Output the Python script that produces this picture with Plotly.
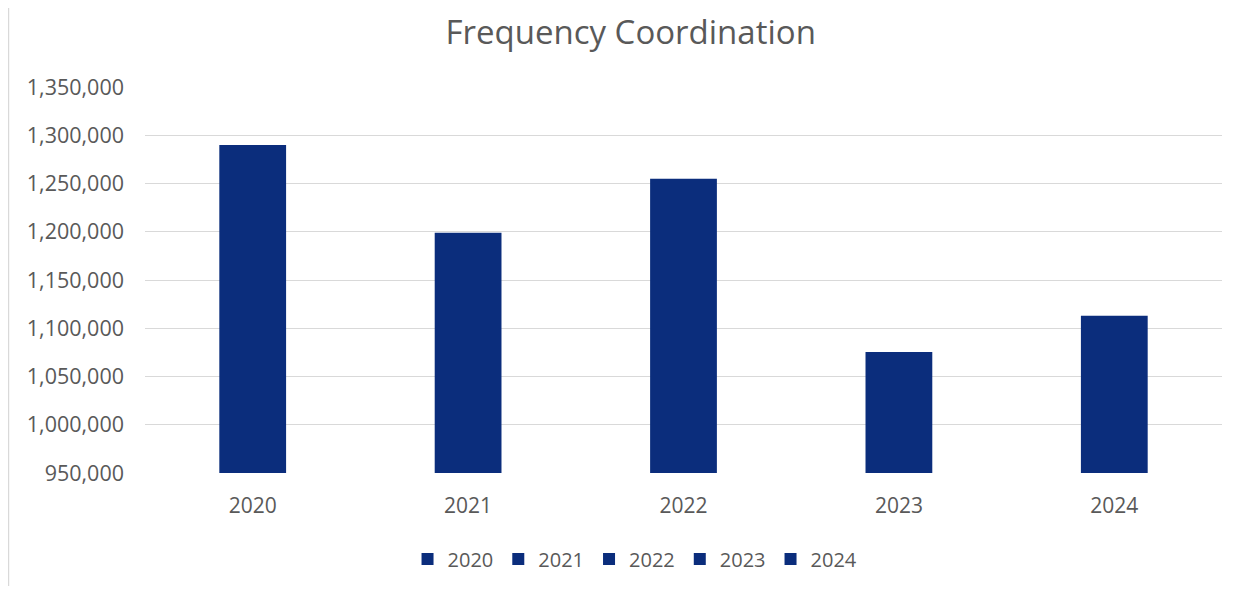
import plotly.graph_objects as go

years = ["2020", "2021", "2022", "2023", "2024"]
values = [1290000, 1199000, 1255000, 1075500, 1113000]
tick_vals = [950000, 1000000, 1050000, 1100000, 1150000, 1200000, 1250000, 1300000, 1350000]

bar_color = "#0B2D7C"
text_color = "#595959"
font_family = "'Open Sans', sans-serif"

W, H = 1233, 578

fig = go.Figure()
for yr, v in zip(years, values):
    fig.add_trace(go.Bar(x=[yr], y=[v], name=yr, marker=dict(color=bar_color, line=dict(width=0)),
                         width=0.31))

fig.update_layout(
    width=W, height=H,
    paper_bgcolor="white", plot_bgcolor="white",
    barmode="overlay",
    margin=dict(l=137, r=19, t=79, b=113, autoexpand=False),
    title=dict(text="Frequency Coordination", x=0.505, xanchor="center", y=1 - 24 / H, yanchor="middle",
               font=dict(family=font_family, size=33, color=text_color)),
    font=dict(family=font_family, size=21, color=text_color),
    xaxis=dict(type="category", categoryorder="array", categoryarray=years, showgrid=False,
               showline=False, ticks="", ticklabelstandoff=18,
               tickfont=dict(size=21, color=text_color)),
    yaxis=dict(range=[950000, 1350000], tickvals=tick_vals, tickformat=",d", showgrid=True,
               gridcolor="#D9D9D9", gridwidth=1, zeroline=False, showline=False, ticks="",
               ticklabelstandoff=20, tickfont=dict(size=21.5, color=text_color)),
    legend=dict(orientation="h", x=0.455, xanchor="center", yref="container", y=1 - 551 / H,
                yanchor="middle", font=dict(size=20, color=text_color), itemwidth=30,
                traceorder="normal"),
    showlegend=True,
)

fig.add_shape(type="line", xref="paper", yref="paper", x0=-0.127, x1=-0.127, y0=-0.30, y1=1.21,
              line=dict(color="#D9D9D9", width=2))

fig.write_html("out.html")
